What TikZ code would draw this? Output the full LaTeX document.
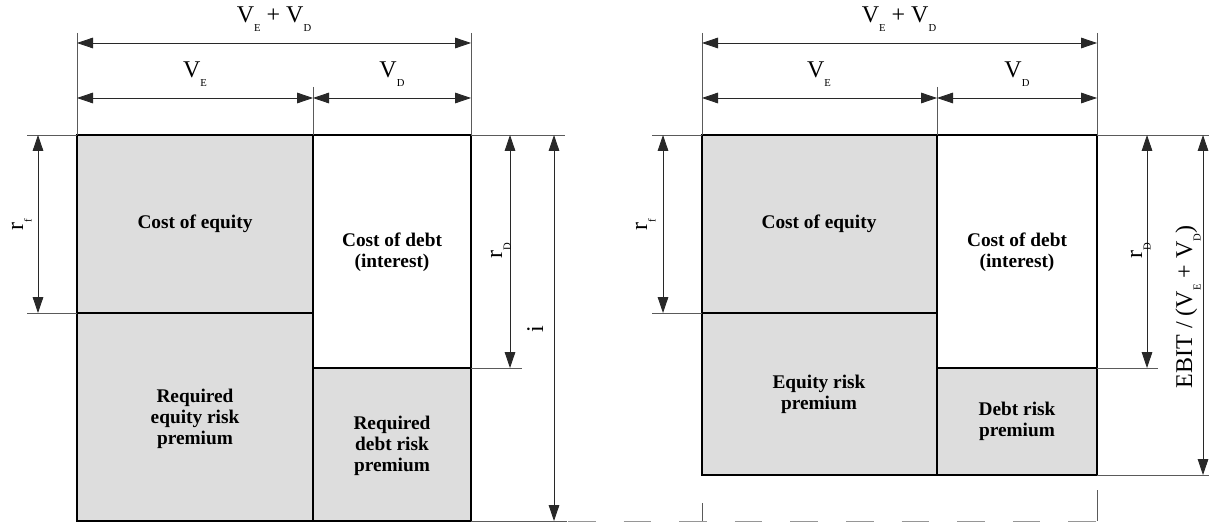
\documentclass[tikz,border=0pt]{standalone}
\usepackage{fontspec}
\setmainfont{Liberation Serif}
\usetikzlibrary{arrows.meta}
\definecolor{boxgray}{RGB}{221,221,221}
\definecolor{thinline}{RGB}{40,40,40}
\definecolor{extgray}{RGB}{90,90,90}
\definecolor{dashgray}{RGB}{150,150,150}
\newcommand{\lowsub}[1]{\raisebox{-6.5pt}{\fontsize{8}{8}\selectfont #1}}
\begin{document}
\begin{tikzpicture}[x=0.75pt,y=-0.75pt,
  boxline/.style={line width=2.1pt, line join=miter},
  dimline/.style={draw=thinline, line width=0.6pt, {Triangle[length=12pt,width=8pt]}-{Triangle[length=12pt,width=8pt]}},
  extline/.style={draw=extgray, line width=0.5pt},
  dashline/.style={draw=dashgray, line width=0.6pt, dash pattern=on 20.7pt off 21pt},
  boxtext/.style={font=\fontsize{14.5}{15.75}\selectfont\bfseries, align=center, inner sep=0pt},
  dimlabel/.style={font=\fontsize{18}{20}\selectfont, inner sep=0pt, anchor=base},
  vlabel/.style={dimlabel, rotate=90}]
\useasboundingbox (0,0) rectangle (1209,524);

% ---------- LEFT DIAGRAM ----------
\fill[boxgray] (77,135) rectangle (313,521);
\fill[boxgray] (313,368) rectangle (471,521);
\draw[boxline] (77,135) rectangle (471,521);
\draw[boxline] (313,135) -- (313,521);
\draw[boxline] (77,313) -- (313,313);
\draw[boxline] (313,368) -- (471,368);

\node[boxtext] (Lce) at (195,224) {Cost of equity};
\node[boxtext] (Lcd) at (392,252) {Cost of debt\\(interest)};
\node[boxtext] (Lre) at (195,419) {Required\\equity risk\\premium};
\node[boxtext] (Lrd) at (392,446) {Required\\debt risk\\premium};

% extension lines
\coordinate (LxA0) at (77,33);  \coordinate (LxA1) at (77,135);
\coordinate (LxB0) at (471,33); \coordinate (LxB1) at (471,135);
\coordinate (LxC0) at (313,87); \coordinate (LxC1) at (313,135);
\draw[extline] (LxA0) -- (LxA1);
\draw[extline] (LxB0) -- (LxB1);
\draw[extline] (LxC0) -- (LxC1);
\coordinate (LyA0) at (27,135); \coordinate (LyA1) at (77,135);
\coordinate (LyB0) at (27,313); \coordinate (LyB1) at (77,313);
\draw[extline] (LyA0) -- (LyA1);
\draw[extline] (LyB0) -- (LyB1);
\coordinate (LyC0) at (471,135); \coordinate (LyC1) at (565,135);
\coordinate (LyD0) at (471,368); \coordinate (LyD1) at (522,368);
\coordinate (LyE0) at (471,521); \coordinate (LyE1) at (567,521);
\draw[extline] (LyC0) -- (LyC1);
\draw[extline] (LyD0) -- (LyD1);
\draw[extline] (LyE0) -- (LyE1);

% dimension arrows
\coordinate (La1) at (77,43);  \coordinate (La2) at (471,43);
\coordinate (Lb1) at (77,98);  \coordinate (Lb2) at (313,98); \coordinate (Lb3) at (471,98);
\coordinate (Lc1) at (38,135); \coordinate (Lc2) at (38,313);
\coordinate (Ld1) at (510,135); \coordinate (Ld2) at (510,368);
\coordinate (Le1) at (554,135); \coordinate (Le2) at (554,521);
\draw[dimline] (La1) -- (La2);
\draw[dimline] (Lb1) -- (Lb2);
\draw[dimline] (Lb2) -- (Lb3);
\draw[dimline] (Lc1) -- (Lc2);
\draw[dimline] (Ld1) -- (Ld2);
\draw[dimline] (Le1) -- (Le2);

\node[dimlabel] (LlVV) at (274,23) {V\lowsub{E} + V\lowsub{D}};
\node[dimlabel] (LlVE) at (195,78) {V\lowsub{E}};
\node[dimlabel] (LlVD) at (392,78) {V\lowsub{D}};
\node[vlabel] (Llrf) at (23,225) {r\lowsub{f}};
\node[vlabel] (LlrD) at (502,251) {r\lowsub{D}};
\node[vlabel] (Lli) at (543,329) {i};

% ---------- RIGHT DIAGRAM ----------
\fill[boxgray] (702,135) rectangle (937,475);
\fill[boxgray] (937,368) rectangle (1097,475);
\draw[boxline] (702,135) rectangle (1097,475);
\draw[boxline] (937,135) -- (937,475);
\draw[boxline] (702,313) -- (937,313);
\draw[boxline] (937,368) -- (1097,368);

\node[boxtext] (Rce) at (819,224) {Cost of equity};
\node[boxtext] (Rcd) at (1017,252) {Cost of debt\\(interest)};
\node[boxtext] (Rre) at (819,394) {Equity risk\\premium};
\node[boxtext] (Rrd) at (1017,421) {Debt risk\\premium};

% extension lines
\coordinate (RxA0) at (702,33);  \coordinate (RxA1) at (702,135);
\coordinate (RxB0) at (1097,33); \coordinate (RxB1) at (1097,135);
\coordinate (RxC0) at (937,87);  \coordinate (RxC1) at (937,135);
\draw[extline] (RxA0) -- (RxA1);
\draw[extline] (RxB0) -- (RxB1);
\draw[extline] (RxC0) -- (RxC1);
\coordinate (RyA0) at (652,135); \coordinate (RyA1) at (702,135);
\coordinate (RyB0) at (652,313); \coordinate (RyB1) at (702,313);
\draw[extline] (RyA0) -- (RyA1);
\draw[extline] (RyB0) -- (RyB1);
\coordinate (RyC0) at (1097,135); \coordinate (RyC1) at (1209,135);
\coordinate (RyD0) at (1097,368); \coordinate (RyD1) at (1158,368);
\coordinate (RyE0) at (1097,475); \coordinate (RyE1) at (1209,475);
\draw[extline] (RyC0) -- (RyC1);
\draw[extline] (RyD0) -- (RyD1);
\draw[extline] (RyE0) -- (RyE1);
\coordinate (RzA0) at (702,503);  \coordinate (RzA1) at (702,521);
\coordinate (RzB0) at (1097,490); \coordinate (RzB1) at (1097,521);
\draw[extline] (RzA0) -- (RzA1);
\draw[extline] (RzB0) -- (RzB1);

% dashed baseline from left diagram
\coordinate (D0) at (568,521); \coordinate (D1) at (1097,521);
\draw[dashline] (D0) -- (D1);

% dimension arrows
\coordinate (Ra1) at (702,43);  \coordinate (Ra2) at (1097,43);
\coordinate (Rb1) at (702,98);  \coordinate (Rb2) at (937,98); \coordinate (Rb3) at (1097,98);
\coordinate (Rc1) at (663,135); \coordinate (Rc2) at (663,313);
\coordinate (Rd1) at (1147,135); \coordinate (Rd2) at (1147,368);
\coordinate (Re1) at (1203,135); \coordinate (Re2) at (1203,475);
\draw[dimline] (Ra1) -- (Ra2);
\draw[dimline] (Rb1) -- (Rb2);
\draw[dimline] (Rb2) -- (Rb3);
\draw[dimline] (Rc1) -- (Rc2);
\draw[dimline] (Rd1) -- (Rd2);
\draw[dimline] (Re1) -- (Re2);

\node[dimlabel] (RlVV) at (899,23) {V\lowsub{E} + V\lowsub{D}};
\node[dimlabel] (RlVE) at (819,78) {V\lowsub{E}};
\node[dimlabel] (RlVD) at (1017,78) {V\lowsub{D}};
\node[vlabel] (Rlrf) at (647,225) {r\lowsub{f}};
\node[vlabel] (RlrD) at (1142,251) {r\lowsub{D}};
\node[vlabel] (Rlebit) at (1192,307) {EBIT / (V\lowsub{E} + V\lowsub{D})};
\end{tikzpicture}
\end{document}
